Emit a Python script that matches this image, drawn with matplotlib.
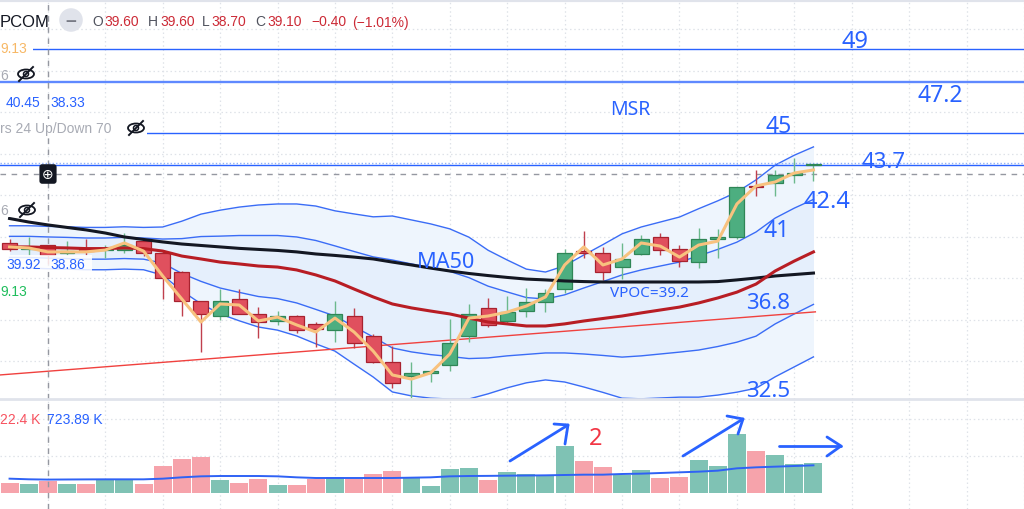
import numpy as np
import matplotlib
matplotlib.use("Agg")
import matplotlib.pyplot as plt
from matplotlib.patches import Rectangle, Ellipse
from matplotlib.lines import Line2D

# ---------------- data ----------------
opens = [39.7, 39.4, 39.6, 39.2, 39.4, 39.35, 39.35, 39.8, 39.2, 38.3, 36.9, 36.2, 37.0, 36.3,
         35.95, 36.2, 35.8, 35.5, 36.2, 35.2, 33.95, 33.3, 33.45, 33.8, 35.2, 36.55, 35.95, 36.4,
         36.85, 37.5, 39.3, 39.2, 38.55, 39.15, 40.0, 39.4, 38.8, 39.9, 40.0, 42.45, 42.6, 43.0, 43.45]
highs = [39.9, 40.0, 39.6, 39.8, 39.9, 39.6, 40.2, 39.8, 39.35, 38.35, 36.9, 37.5, 37.5, 36.6,
         36.4, 36.25, 35.9, 36.9, 36.55, 35.3, 34.75, 33.95, 33.6, 36.05, 36.75, 37.05, 37.15, 37.55,
         37.5, 39.4, 40.3, 39.5, 39.7, 40.1, 40.2, 39.6, 40.4, 40.35, 42.4, 43.2, 43.2, 43.8, 43.5]
lows = [39.3, 39.1, 38.7, 39.1, 39.1, 39.0, 39.2, 39.05, 37.0, 36.2, 34.45, 36.0, 36.3, 35.1,
        35.75, 35.35, 34.7, 34.95, 34.65, 33.9, 32.7, 32.25, 33.0, 33.55, 34.95, 35.65, 35.8, 36.15,
        36.35, 37.3, 39.0, 37.9, 37.95, 39.1, 39.1, 38.55, 38.5, 39.0, 39.9, 41.95, 41.95, 42.6, 42.7]
closes = [39.4, 39.5, 39.1, 39.3, 39.3, 39.45, 39.6, 39.2, 38.0, 36.9, 36.3, 36.9, 36.3, 35.9,
          36.2, 35.5, 35.55, 36.3, 34.9, 33.95, 32.95, 33.45, 33.55, 34.9, 36.3, 35.75, 36.35, 36.85,
          37.3, 39.2, 39.2, 38.3, 38.95, 39.9, 39.35, 38.85, 39.9, 39.95, 42.4, 42.4, 43.0, 43.05, 43.5]
volumes_k = [558, 504, 622.4, 468, 504, 684, 684, 468, 1458, 1854, 1944, 702, 522, 774, 432, 432,
             774, 882, 774, 1008, 1206, 810, 378, 1278, 1368, 702, 1152, 1026, 900, 2556, 1728, 1404,
             990, 1260, 792, 882, 1764, 1458, 3186, 2286, 2070, 1548, 1638]
vol_ma_k = [774, 740, 724, 730, 735, 738, 738, 738, 774, 846, 900, 918, 918, 918, 900, 846, 810,
            810, 810, 810, 810, 828, 846, 900, 918, 925, 935, 945, 954, 972, 990, 990, 1026, 1044,
            1080, 1116, 1152, 1206, 1332, 1386, 1422, 1458, 1494]
ma50 = [40.88, 40.71, 40.57, 40.45, 40.33, 40.18, 39.99, 39.87, 39.75, 39.65, 39.58, 39.51, 39.44,
        39.39, 39.34, 39.27, 39.17, 39.10, 39.02, 38.93, 38.78, 38.64, 38.49, 38.35, 38.23, 38.13,
        38.04, 37.96, 37.92, 37.87, 37.84, 37.82, 37.82, 37.82, 37.82, 37.82, 37.82, 37.84, 37.92,
        38.01, 38.11, 38.18, 38.25]
bb_basis = [39.51, 39.51, 39.48, 39.46, 39.43, 39.43, 39.46, 39.43, 39.31, 39.07, 38.93, 38.78,
            38.69, 38.59, 38.54, 38.40, 38.16, 37.87, 37.48, 37.10, 36.76, 36.57, 36.42, 36.28,
            36.08, 35.89, 35.80, 35.70, 35.70, 35.80, 35.94, 36.06, 36.18, 36.33, 36.47, 36.61,
            36.81, 37.05, 37.33, 37.72, 38.35, 38.83, 39.27]
bb_dev = [0.51, 0.51, 0.51, 0.51, 0.51, 0.51, 0.51, 0.51, 0.58, 0.84, 1.08, 1.25, 1.37, 1.47, 1.52,
          1.59, 1.66, 1.69, 1.81, 1.93, 2.12, 2.12, 2.10, 2.05, 1.95, 1.73, 1.54, 1.37, 1.30, 1.40,
          1.59, 1.78, 1.98, 2.07, 2.12, 2.17, 2.27, 2.34, 2.41, 2.51, 2.55, 2.55, 2.53]
fast_ma = [39.51, 39.46, 39.27, 39.27, 39.27, 39.36, 39.70, 39.31, 38.11, 37.00, 35.89, 36.76,
           36.71, 35.94, 36.13, 35.75, 35.41, 36.08, 35.41, 34.49, 33.34, 33.14, 33.44, 34.35,
           36.08, 36.18, 36.37, 36.66, 37.10, 38.64, 39.51, 38.64, 38.93, 39.70, 39.55, 39.02,
           39.60, 39.79, 41.58, 42.45, 42.64, 43.07, 43.22]
trend_idx = [-0.5, 42.1]
trend_price = [33.34, 36.38]
level_prices = [49.05, 47.45, 44.98, 43.46]
crosshair_idx = 2
crosshair_price = 43.02
price_grid = [34, 36, 38, 40, 42, 44, 46, 48, 50]
vol_grid = [2000, 4000]
time_grid = list(range(2, 54, 3))

# ---------------- figure ----------------
W, H = 1024, 510
fig = plt.figure(figsize=(W / 100, H / 100), dpi=100)
fig.patch.set_facecolor("white")


def fx(x):
    return x / W


def fy(y):
    return 1 - y / H


PANE = 400
ax = fig.add_axes([0, fy(PANE), 1, PANE / H])
axv = fig.add_axes([0, 0, 1, (H - PANE) / H])

idx = np.arange(len(closes))
for a in (ax, axv):
    a.set_xlim(-9.6 / 19.25, (W - 9.6) / 19.25)
    a.set_facecolor("white")
    for s in a.spines.values():
        s.set_visible(False)
    a.tick_params(length=0, labelleft=False, labelbottom=False)
    a.set_xticks(time_grid)
    a.set_axisbelow(True)
    a.grid(True, color="#dfe2e8", linestyle=(0, (1.2, 2.2)), linewidth=0.9)

ax.set_ylim(51.458 - PANE / 20.75, 51.458)
ax.set_yticks(price_grid)
axv.set_ylim(-16 * 54, 94 * 54)
axv.set_yticks(vol_grid)

# Bollinger bands
basis = np.array(bb_basis)
dev = np.array(bb_dev)
up2, lo2, up1, lo1 = basis + 2 * dev, basis - 2 * dev, basis + dev, basis - dev
ax.fill_between(idx, lo2, up2, color="#eef5fd", lw=0, zorder=1)
ax.fill_between(idx, lo1, up1, color="#e5effc", lw=0, zorder=1.1)
for band in (up2, up1, lo1, lo2):
    ax.plot(idx, band, color="#3a6cf6", lw=1.0, zorder=2)

# horizontal drawn levels
for i, p in enumerate(level_prices):
    ax.axhline(p, color="#2962ff", lw=1.7 if i == 1 else 1.0,
               alpha=0.75 if i == 1 else 1.0, zorder=2.5)
ax.axhline(level_prices[3] + 0.09, color="#8fb0fa", lw=1.0, ls=(0, (1, 1.5)), zorder=2.4)

# trend line
ax.plot(trend_idx, trend_price, color="#f0413e", lw=1.0, zorder=3)

# crosshair
ax.axhline(crosshair_price, color="#9598a1", lw=1.0, ls=(0, (4, 4)), zorder=3)
for a in (ax, axv):
    a.axvline(crosshair_idx, color="#9598a1", lw=1.0, ls=(0, (4, 4)), zorder=3)

# candles
o = np.array(opens); c = np.array(closes); h = np.array(highs); l = np.array(lows)
up = c >= o
body_fc = np.where(up, "#4dae80", "#e0505e")
body_ec = np.where(up, "#2f8656", "#a8222f")
wick_c = np.where(up, "#6cb98d", "#c0404d")
ax.vlines(idx, l, h, colors=wick_c, lw=1.0, zorder=4)
bottoms = np.minimum(o, c)
heights = np.maximum(np.abs(c - o), 0.07)
ax.bar(idx, heights, bottom=bottoms, width=0.78, color=body_fc, edgecolor=body_ec,
       linewidth=0.9, zorder=4.5)

# moving averages
ax.plot(idx, ma50, color="#131722", lw=2.2, zorder=5)
ax.plot(idx, bb_basis, color="#b81d24", lw=2.2, zorder=5)
ax.plot(idx, fast_ma, color="#f8c27f", lw=2.2, zorder=5.5)

# volume
vol_c = np.where(up, "#7fc2b4", "#f6a3ab")
axv.bar(idx, volumes_k, width=0.94, color=vol_c, zorder=2)
axv.plot(idx, vol_ma_k, color="#2f62f5", lw=1.4, zorder=3)

# pane borders
fig.add_artist(Line2D([0, 1], [fy(PANE)] * 2, transform=fig.transFigure, color="#e0e3eb", lw=2))
fig.add_artist(Line2D([0, 1], [fy(1)] * 2, transform=fig.transFigure, color="#e0e3eb", lw=3))


def txt(x, y, s, color, size, family="Liberation Sans", ha="left", va="baseline", **kw):
    fig.text(fx(x), fy(y), s, color=color, fontsize=size, family=family, ha=ha, va=va, **kw)


def rect(x0, y0, x1, y1, color="white", alpha=1.0):
    fig.add_artist(Rectangle((fx(x0), fy(y1)), fx(x1) - fx(x0), fy(y0) - fy(y1),
                             transform=fig.transFigure, fc=color, ec="none", alpha=alpha))


def eye(cx, cy):
    fig.add_artist(Ellipse((fx(cx), fy(cy)), 16 / W, 9 / H, transform=fig.transFigure,
                           fill=False, ec="#131722", lw=1.3))
    fig.add_artist(Ellipse((fx(cx), fy(cy)), 5 / W, 5 / H, transform=fig.transFigure,
                           fill=False, ec="#131722", lw=1.1))
    fig.add_artist(Line2D([fx(cx - 7), fx(cx + 7)], [fy(cy + 7), fy(cy - 7)],
                          transform=fig.transFigure, color="#131722", lw=1.4))


# legend block (top-left)
txt(0, 27, "PCOM", "#131722", 12)
fig.text(fx(71), fy(21), "\u2212", ha="center", va="center", color="#787b86", fontsize=11,
         weight="bold", family="DejaVu Sans",
         bbox=dict(boxstyle="circle,pad=0.28", fc="#e0e3eb", ec="none"))
red = "#cc2a36"
gray = "#50535e"
for x, s, col in [(92, "O", gray), (104, "39.60", red), (148, "H", gray), (160, "39.60", red),
                  (202, "L", gray), (211, "38.70", red), (255, "C", gray), (267, "39.10", red),
                  (311, "\u22120.40", red), (352, "(\u22121.01%)", red)]:
    txt(x, 26.5, s, col, 10)

rect(0, 40, 33, 57)
txt(0, 53, "9.13", "#f7b866", 10)
txt(0, 80, "6", "#a8abb4", 10)
eye(26, 75)
txt(6, 107, "40.45", "#2962ff", 10)
txt(50, 107, "38.33", "#2962ff", 10)
rect(0, 120, 147, 139)
txt(0, 133, "rs 24 Up/Down 70", "#a8abb4", 10)
eye(136, 129)
rect(0, 203, 12, 218)
txt(0, 215, "6", "#a8abb4", 10)
eye(27, 211)
rect(0, 256, 92, 273, alpha=0.85)
txt(6, 269, "39.92", "#2962ff", 10)
txt(50, 269, "38.86", "#2962ff", 10)
txt(0, 296, "9.13", "#1fbd5c", 10)
txt(0, 424, "22.4 K", "#f7525f", 10)
txt(47, 424, "723.89 K", "#2962ff", 10)

fig.text(fx(48), fy(175), "\u2295", ha="center", va="center", color="white", fontsize=10,
         family="DejaVu Sans", bbox=dict(boxstyle="round,pad=0.2", fc="#131722", ec="none"))

# annotations
blue = "#2962ff"
nf = "Noto Sans"
txt(842, 48, "49", blue, 17, nf)
txt(918, 102, "47.2", blue, 16.5, nf)
txt(610, 115, "MSR", blue, 14, nf)
txt(765, 133, "45", blue, 16.5, nf)
txt(861, 168, "43.7", blue, 16, nf)
txt(803, 208, "42.4", blue, 17, nf)
txt(764, 237, "41", blue, 16.5, nf)
txt(746, 309, "36.8", blue, 16, nf)
txt(746, 397, "32.5", blue, 16, nf)
txt(417, 268, "MA50", blue, 15.6, nf)
txt(610, 297, "VPOC=39.2", blue, 11, nf)
txt(589, 445, "2", "#f23645", 17, nf)

# hand-drawn arrows in the volume pane
arrows = [((510, 462), (568, 426), (554, 425), (565, 445)),
          ((683, 457), (743, 420), (727, 417), (738, 435)),
          ((779, 447), (841, 447), (827, 438), (827, 457))]
for (a0, tip, h1, h2) in arrows:
    fig.add_artist(Line2D([fx(a0[0]), fx(tip[0])], [fy(a0[1]), fy(tip[1])],
                          transform=fig.transFigure, color=blue, lw=2, solid_capstyle="round"))
    fig.add_artist(Line2D([fx(h1[0]), fx(tip[0]), fx(h2[0])], [fy(h1[1]), fy(tip[1]), fy(h2[1])],
                          transform=fig.transFigure, color=blue, lw=2, solid_capstyle="round",
                          solid_joinstyle="round"))

fig.savefig("out.png", dpi=100, facecolor="white")
